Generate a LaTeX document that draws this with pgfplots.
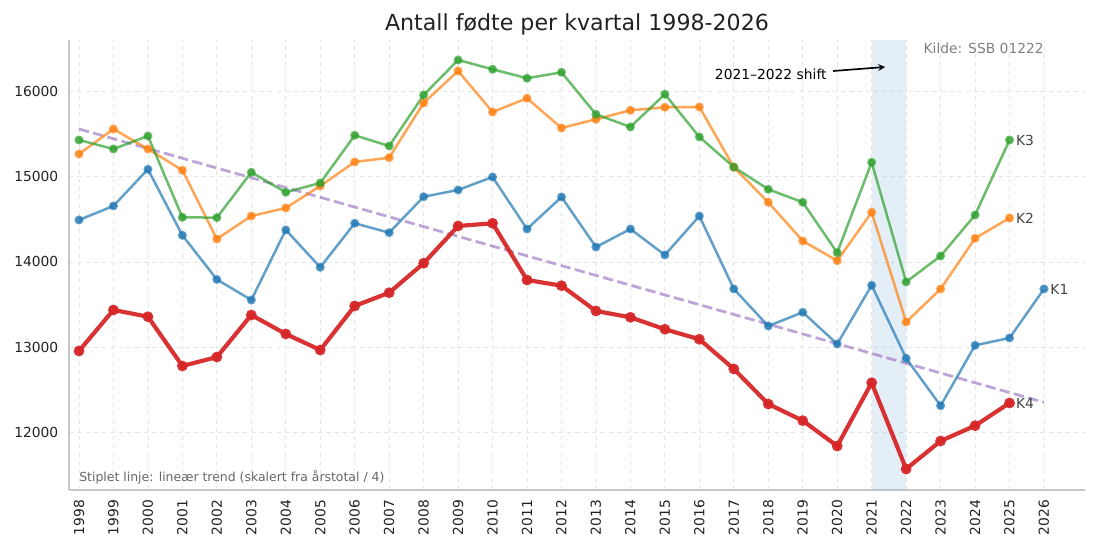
\documentclass[border=0pt]{standalone}
\usepackage{pgfplots}
\pgfplotsset{compat=1.18}
\usepackage{pgfplotstable}
\usepackage{fontspec}
\setmainfont{DejaVu Sans}
\definecolor{tabblue}{HTML}{1F77B4}
\definecolor{taborange}{HTML}{FF7F0E}
\definecolor{tabgreen}{HTML}{2CA02C}
\definecolor{tabred}{HTML}{D62728}
\definecolor{tabpurple}{HTML}{9467BD}
\definecolor{txt}{HTML}{222222}
\definecolor{lbl}{HTML}{444444}

\pgfplotstableread{
year K2 K3 K4
1998 15263 15427 12957
1999 15556 15322 13437
2000 15322 15474 13358
2001 15073 14522 12781
2002 14268 14518 12886
2003 14537 15049 13378
2004 14631 14815 13156
2005 14889 14924 12968
2006 15170 15482 13484
2007 15220 15357 13639
2008 15861 15954 13984
2009 16235 16364 14420
2010 15755 16255 14452
2011 15916 16150 13788
2012 15568 16220 13721
2013 15670 15728 13425
2014 15775 15580 13351
2015 15810 15963 13211
2016 15814 15463 13094
2017 15108 15110 12746
2018 14698 14850 12336
2019 14245 14698 12141
2020 14014 14108 11844
2021 14581 15166 12585
2022 13296 13765 11575
2023 13683 14069 11903
2024 14276 14549 12082
2025 14514 15427 12348
}\births

\pgfplotstableread{
year K1
1998 14491
1999 14655
2000 15084
2001 14311
2002 13794
2003 13554
2004 14374
2005 13937
2006 14452
2007 14342
2008 14763
2009 14842
2010 14994
2011 14385
2012 14760
2013 14174
2014 14385
2015 14081
2016 14537
2017 13683
2018 13249
2019 13410
2020 13039
2021 13726
2022 12871
2023 12316
2024 13023
2025 13109
2026 13683
}\kone

\begin{document}
\begin{tikzpicture}
\path[use as bounding box] (-49.68bp,-43.2bp) rectangle (742.32bp,352.8bp);
\begin{axis}[
  scale only axis,
  width=731.52bp, height=324bp,
  xmin=1997.71, xmax=2027.19,
  ymin=11329, ymax=16598,
  clip=false,
  scaled y ticks=false, scaled x ticks=false,
  axis x line*=bottom, axis y line*=left,
  axis line style={draw=black!22, line width=0.8bp},
  major tick length=0pt,
  tick style={draw=none},
  xtick={1998,1999,...,2026},
  ytick={12000,13000,14000,15000,16000},
  xmajorgrids, ymajorgrids,
  major grid style={draw=black!10, dashed, line width=0.5bp},
  /pgf/number format/assume math mode=true,
  /pgf/number format/1000 sep={},
  x tick label style={rotate=90, anchor=east, inner sep=0pt, font=\fontsize{10}{12}\selectfont, text=txt},
  xticklabel shift={7bp},
  y tick label style={anchor=east, inner sep=0pt, font=\fontsize{10}{12}\selectfont, text=txt},
  yticklabel shift={7.5bp},
]
% shaded span
\addplot[draw=none, fill=tabblue, fill opacity=0.12] coordinates {(2021,11329) (2022,11329) (2022,16598) (2021,16598)} -- cycle;

% trend
\addplot[tabpurple, opacity=0.6, line width=2bp, dash pattern=on 7.4bp off 3.2bp] coordinates {(1998,15556) (2026,12356)};

\addplot[tabblue, opacity=0.7, line width=1.8bp, mark=*, mark size=2.3bp] table[x=year,y=K1] {\kone};
\addplot[taborange, opacity=0.7, line width=1.8bp, mark=*, mark size=2.3bp] table[x=year,y=K2] {\births};
\addplot[tabgreen, opacity=0.7, line width=1.8bp, mark=*, mark size=2.3bp] table[x=year,y=K3] {\births};
\addplot[tabred, opacity=0.95, line width=3bp, mark=*, mark size=2.3bp] table[x=year,y=K4] {\births};

% end labels
\node[anchor=west, text=lbl, font=\fontsize{10}{12}\selectfont, inner sep=0pt] at (axis cs:2025.18,15427) {K3};
\node[anchor=west, text=lbl, font=\fontsize{10}{12}\selectfont, inner sep=0pt] at (axis cs:2025.18,14514) {K2};
\node[anchor=west, text=lbl, font=\fontsize{10}{12}\selectfont, inner sep=0pt] at (axis cs:2025.18,12348) {K4};
\node[anchor=west, text=lbl, font=\fontsize{10}{12}\selectfont, inner sep=0pt] at (axis cs:2026.18,13683) {K1};

% annotation
\draw[-stealth, line width=1.2bp, black] (axis cs:2019.88,16235) -- (axis cs:2021.39,16282);
\node[anchor=east, inner sep=0pt, font=\fontsize{10}{12}\selectfont, text=black] at (axis cs:2019.70,16200) {2021–2022 shift};

% source
\node[anchor=east, inner sep=0pt, font=\fontsize{10}{12}\selectfont, text=black!50] at (axis cs:2026.0,16505) {Kilde: SSB 01222};

% footnote
\node[anchor=west, inner sep=0pt, font=\fontsize{9}{11}\selectfont, text=black!60] at (axis cs:1998.0,11481) {Stiplet linje: lineær trend (skalert fra årstotal / 4)};

% title
\node[anchor=base, inner sep=0pt, font=\fontsize{16}{19}\selectfont, text=txt] at (rel axis cs:0.5,1) [yshift=7.2bp] {Antall fødte per kvartal 1998-2026};
\end{axis}
\end{tikzpicture}
\end{document}
